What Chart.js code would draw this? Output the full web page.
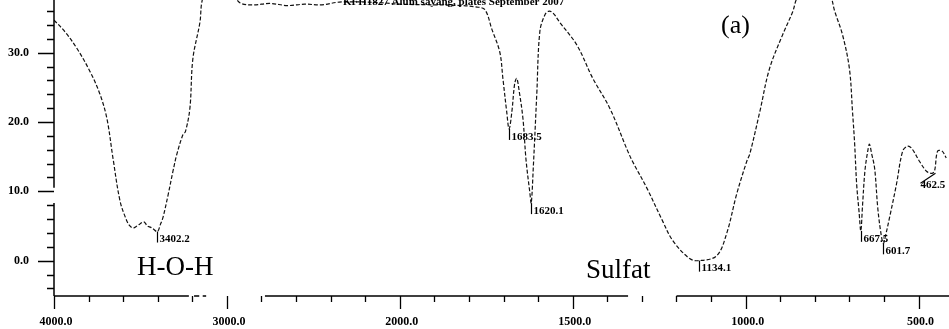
<!DOCTYPE html>
<html>
<head>
<meta charset="utf-8">
<script src="https://cdn.jsdelivr.net/npm/chart.js@4.4.1/dist/chart.umd.min.js"></script>
<style>
  html, body { margin: 0; padding: 0; background: #fff; }
  canvas { display: block; }
</style>
</head>
<body>
<canvas id="spectrum" width="949" height="329"></canvas>
<script>
// IR spectrum, wavenumber (cm-1) vs %T
const wavenumbers = [
  4000, 3936, 3867, 3792, 3734, 3694, 3659, 3618, 3580, 3561, 3543, 3520, 3503, 3480,
  3460, 3440, 3428, 3402, 3385, 3370, 3340, 3312, 3289, 3254, 3240, 3214, 3197, 3156,
  3145, 3120, 3050, 2980, 2925, 2850, 2750, 2650, 2550, 2450, 2350, 2200, 2100, 2000,
  1900, 1820, 1780, 1754, 1734, 1711, 1702, 1691, 1684, 1676, 1668, 1662, 1655, 1644,
  1635, 1624, 1620, 1614, 1604, 1595, 1580, 1568, 1555, 1538, 1488, 1442, 1393, 1341,
  1327, 1286, 1240, 1211, 1162, 1134, 1084, 1055, 1026, 997, 988, 959, 931, 893, 864,
  850, 800, 760, 742, 720, 700, 691, 685, 679, 672, 667, 662, 655, 647, 642, 636, 627,
  618, 609, 602, 596, 584, 564, 546, 532, 520, 497, 477, 462, 454, 445, 432, 420
];
const transmittance = [
  34.7, 33.0, 30.6, 27.3, 24.0, 20.5, 14.8, 8.6, 5.8, 5.0, 4.7, 5.0, 5.3, 5.6,
  5.0, 4.8, 4.6, 4.2, 5.2, 6.2, 9.5, 12.9, 15.4, 18.2, 18.6, 22.0, 29.1, 34.4,
  37.3, 39.0, 40.0, 39.0, 37.2, 36.9, 37.1, 36.8, 37.0, 36.9, 37.3, 37.3, 37.2, 37.0,
  36.9, 36.8, 36.6, 36.2, 33.4, 30.1, 26.3, 21.5, 19.0, 21.5, 25.5, 26.3, 24.5, 20.5,
  14.5, 9.8, 8.3, 13.5, 24.0, 33.1, 35.5, 36.0, 35.6, 34.4, 31.1, 26.3, 22.0, 15.8,
  14.3, 10.5, 5.7, 2.9, 0.3, 0.0, 0.7, 3.9, 9.6, 14.3, 15.4, 21.5, 27.7, 32.6, 35.9,
  38.0, 41.0, 39.0, 35.9, 32.6, 27.7, 21.5, 17.0, 11.0, 7.0, 4.3, 8.0, 13.0, 15.8, 16.8, 15.5, 13.3,
  7.6, 4.0, 2.5, 3.5, 6.2, 11.0, 15.8, 16.5, 16.2, 14.3, 12.9, 12.6, 12.9, 15.8, 15.8, 14.8
];

const xMajorTicks = [4000, 3000, 2000, 1500, 1000, 500];
const xTickLabels = ['4000.0', '3000.0', '2000.0', '1500.0', '1000.0', '500.0'];
const yMajorTicks = [30, 20, 10, 0];
const yTickLabels = ['30.0', '20.0', '10.0', '0.0'];

const peakWavenumbers = [3402.2, 1683.5, 1620.1, 1134.1, 667.5, 601.7, 462.5];
const peakDepths = [4.2, 19.0, 8.3, 0.0, 4.3, 2.5, 12.6];
const peakLabels = ['3402.2', '1683.5', '1620.1', '1134.1', '667.5', '601.7', '462.5'];

// spectrometer axis: 4000-2000 at half the scale of 2000-400
function bend(w) {
  return w >= 2000 ? (4000 - w) / 1000 : 2 + (2000 - w) / 500;
}

class WavenumberScale extends Chart.LinearScale {
  static id = 'wavenumber';
  static defaults = Chart.LinearScale.defaults;
  getPixelForValue(value) {
    return this.left + bend(value) / bend(this.min) * this.width;
  }
}
Chart.register(WavenumberScale);

const serif = '"Liberation Serif", "Times New Roman", serif';

const spectrumDecor = {
  id: 'spectrumDecor',
  afterDraw(chart) {
    const ctx = chart.ctx;
    const xs = chart.scales.x;
    const ys = chart.scales.y;
    const area = chart.chartArea;
    const x0 = area.left, yb = area.bottom;
    ctx.save();
    ctx.strokeStyle = '#000';
    ctx.fillStyle = '#000';
    ctx.lineWidth = 1.5;

    // y axis line (broken near 10.0 like the scan)
    ctx.beginPath();
    ctx.moveTo(x0, area.top); ctx.lineTo(x0, ys.getPixelForValue(10.5));
    ctx.moveTo(x0, ys.getPixelForValue(8.3)); ctx.lineTo(x0, yb);
    ctx.stroke();

    // x axis line, with the gaps
    const segs = [[4000, 3220], [3190, 3160], [3140, 3120], [2780, 1340], [1200, 412]];
    ctx.beginPath();
    segs.forEach(s => {
      ctx.moveTo(xs.getPixelForValue(s[0]), yb);
      ctx.lineTo(xs.getPixelForValue(s[1]), yb);
    });
    ctx.stroke();

    // y ticks
    ctx.lineWidth = 1.3;
    ctx.beginPath();
    for (let v = -4; v <= 36; v += 2) {
      const y = Math.round(ys.getPixelForValue(v)) + 0.5;
      const len = yMajorTicks.includes(v) ? 16 : 7;
      ctx.moveTo(x0 - len, y); ctx.lineTo(x0, y);
    }
    ctx.stroke();
    ctx.font = 'bold 12px ' + serif;
    ctx.textAlign = 'right';
    ctx.textBaseline = 'middle';
    yMajorTicks.forEach((v, i) => ctx.fillText(yTickLabels[i], 29, ys.getPixelForValue(v)));

    // x ticks
    ctx.beginPath();
    const minor = [];
    for (let w = 4000; w > 2000; w -= 200) minor.push(w);
    for (let w = 2000; w >= 500; w -= 100) minor.push(w);
    minor.forEach(w => {
      const x = Math.round(xs.getPixelForValue(w)) + 0.5;
      const len = xMajorTicks.includes(w) ? 13 : 6;
      ctx.moveTo(x, yb); ctx.lineTo(x, yb + len);
    });
    ctx.stroke();
    ctx.textAlign = 'center';
    xMajorTicks.forEach((w, i) => ctx.fillText(xTickLabels[i], xs.getPixelForValue(w) + 2, yb + 26));

    // peak markers
    ctx.lineWidth = 1.2;
    ctx.font = 'bold 11px ' + serif;
    ctx.textAlign = 'left';
    peakWavenumbers.forEach((w, i) => {
      const x = Math.round(xs.getPixelForValue(w)) + 0.5;
      const y = ys.getPixelForValue(peakDepths[i]);
      ctx.beginPath();
      if (i === peakWavenumbers.length - 1) {
        ctx.moveTo(x + 3, y); ctx.lineTo(x - 12, y + 10);
        ctx.stroke();
        ctx.fillText(peakLabels[i], x - 12, y + 12);
      } else {
        ctx.moveTo(x, y); ctx.lineTo(x, y + 11);
        ctx.stroke();
        ctx.fillText(peakLabels[i], x + 2, y + 8);
      }
    });

    // header line cut by the page top
    ctx.font = 'bold 11px ' + serif;
    ctx.textBaseline = 'alphabetic';
    ctx.fillText('KFH1827 Alum sayang, plates September 2007', 343, 5);

    // annotations
    ctx.font = '27px ' + serif;
    ctx.fillText('H-O-H', 137, 275);
    ctx.fillText('Sulfat', 586, 278);
    ctx.font = '26px ' + serif;
    ctx.fillText('(a)', 721, 33);
    ctx.restore();
  }
};

new Chart(document.getElementById('spectrum'), {
  type: 'line',
  data: {
    datasets: [{
      data: wavenumbers.map((w, i) => ({ x: w, y: transmittance[i] })),
      borderColor: '#111',
      borderWidth: 1.2,
      borderDash: [4, 2],
      pointRadius: 0,
      tension: 0.35,
      fill: false
    }]
  },
  options: {
    responsive: false,
    animation: false,
    events: [],
    layout: { padding: { left: 54, right: 0, top: 0, bottom: 33 } },
    plugins: { legend: { display: false }, tooltip: { enabled: false } },
    scales: {
      x: { type: 'wavenumber', min: 412, max: 4000, display: false },
      y: { type: 'linear', min: -5.1, max: 37.6, display: false }
    }
  },
  plugins: [spectrumDecor]
});
</script>
</body>
</html>
